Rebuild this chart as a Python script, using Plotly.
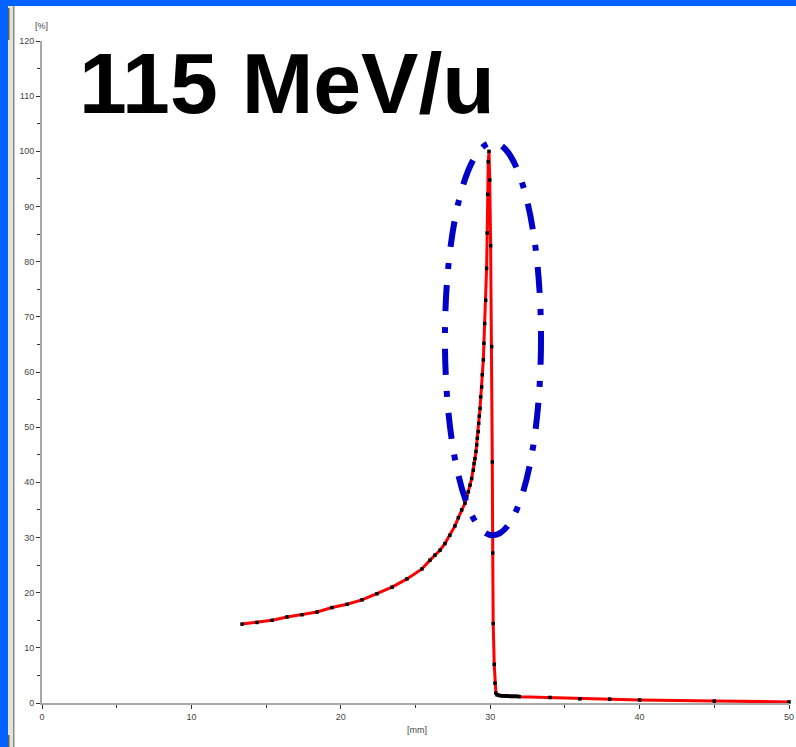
import plotly.graph_objects as go

# ---- data ----
depth_mm = [13.39, 14.39, 15.40, 16.40, 17.40, 18.41, 19.41, 20.42, 21.42, 22.42,
            23.43, 24.43, 25.43, 25.97, 26.30, 26.64, 26.97, 27.30, 27.64, 27.87,
            28.09, 28.31, 28.43, 28.54, 28.65, 28.76, 28.87, 28.92, 28.98, 29.05,
            29.10, 29.14, 29.20, 29.23, 29.27, 29.32, 29.36, 29.43, 29.47, 29.54,
            29.58, 29.63, 29.70, 29.76, 29.80, 29.83, 29.87, 29.92,
            29.97, 30.03, 30.10, 30.14, 30.17, 30.20, 30.27, 30.32, 30.38,
            30.45, 30.55, 30.65, 30.75, 30.85, 30.95, 31.05, 31.15, 31.25, 31.35,
            31.45, 31.55, 31.65, 31.75, 31.85, 31.95,
            34.0, 36.0, 38.0, 40.0, 45.0, 50.0]
dose_pct = [14.3, 14.6, 15.0, 15.6, 16.0, 16.5, 17.3, 17.9, 18.7, 19.8,
            21.0, 22.5, 24.3, 25.9, 26.8, 27.7, 28.9, 30.4, 32.1, 33.6,
            35.0, 36.2, 37.4, 38.3, 39.5, 40.7, 42.2, 43.4, 44.3, 45.6,
            46.8, 48.0, 49.2, 50.7, 52.0, 53.4, 55.5, 57.3, 59.5, 62.2,
            65.2, 68.8, 73.0, 78.8, 85.2, 92.2, 98.1, 100.0,
            94.8, 82.9, 64.6, 43.7, 27.2, 14.4, 7.0, 3.6, 1.8,
            1.5, 1.4, 1.35, 1.3, 1.3, 1.3, 1.25, 1.25, 1.25, 1.2,
            1.2, 1.2, 1.2, 1.2, 1.2, 1.15,
            1.0, 0.75, 0.7, 0.55, 0.35, 0.2]

x_ticks = [0, 10, 20, 30, 40, 50]
y_ticks = [0, 10, 20, 30, 40, 50, 60, 70, 80, 90, 100, 110, 120]
title_text = "115 MeV/u"

# ---- layout geometry ----
W, H = 796, 747
ML, MR, MT, MB = 42, 7, 41, 44
PW, PH = W - ML - MR, H - MT - MB


def px_x(p):
    return (p - ML) / PW


def px_y(p):
    return (H - MB - p) / PH


fig = go.Figure()
fig.add_trace(go.Scatter(
    x=depth_mm, y=dose_pct, mode="lines+markers",
    line=dict(color="#ff0000", width=3),
    marker=dict(color="#000000", size=3.5, symbol="square"),
    cliponaxis=False, showlegend=False,
))

tickfont = dict(family="Liberation Sans Narrow, Liberation Sans, Arial", size=9, color="#444444")

fig.update_xaxes(
    range=[0, 50], tickvals=x_ticks, ticktext=[str(v) for v in x_ticks],
    showline=True, linecolor="#a8a8a8", linewidth=2, showgrid=False, zeroline=False,
    ticks="outside", ticklen=4, tickwidth=1, tickcolor="#333333",
    minor=dict(dtick=5, ticks="outside", ticklen=3, tickcolor="#333333", showgrid=False),
    tickfont=tickfont, fixedrange=True,
)
fig.update_yaxes(
    range=[0, 120], tickvals=y_ticks, ticktext=[str(v) for v in y_ticks],
    showline=True, linecolor="#a8a8a8", linewidth=2, showgrid=False, zeroline=False,
    ticks="outside", ticklen=4, tickwidth=1, tickcolor="#333333",
    minor=dict(dtick=5, ticks="outside", ticklen=3, tickcolor="#333333", showgrid=False),
    tickfont=tickfont, fixedrange=True,
)

shapes = [
    # window frame: blue bands and grey strip
    dict(type="rect", xref="paper", yref="paper", x0=px_x(0), x1=px_x(W), y0=px_y(6), y1=px_y(0),
         fillcolor="#0062ff", line_width=0, layer="above"),
    dict(type="rect", xref="paper", yref="paper", x0=px_x(0), x1=px_x(8), y0=px_y(H), y1=px_y(0),
         fillcolor="#0062ff", line_width=0, layer="above"),
    dict(type="rect", xref="paper", yref="paper", x0=px_x(8), x1=px_x(13), y0=px_y(H), y1=px_y(6),
         fillcolor="#e6e3d6", line_width=0, layer="above"),
    dict(type="rect", xref="paper", yref="paper", x0=px_x(13), x1=px_x(14.5), y0=px_y(H), y1=px_y(6),
         fillcolor="#8a8a8a", line_width=0, layer="above"),
    dict(type="rect", xref="paper", yref="paper", x0=px_x(8), x1=px_x(9.5), y0=px_y(40), y1=px_y(8),
         fillcolor="#606060", line_width=0, layer="above"),
    dict(type="rect", xref="paper", yref="paper", x0=px_x(8), x1=px_x(9.5), y0=px_y(H), y1=px_y(735),
         fillcolor="#606060", line_width=0, layer="above"),
    # blue dash-dot ellipse around the peak
    dict(type="circle", xref="x", yref="y", x0=26.97, x1=33.4, y0=30.4, y1=101.6,
         line=dict(color="#0000c8", width=6, dash="26px,16px,6px,16px"), layer="above"),
]

annotations = [
    dict(text=title_text, xref="paper", yref="paper", x=px_x(77), y=px_y(83),
         xanchor="left", yanchor="middle", showarrow=False,
         font=dict(family="Liberation Sans, Arial", size=86, color="#000000", weight="bold")),
    dict(text="[%]", xref="paper", yref="paper", x=px_x(41), y=px_y(26),
         xanchor="center", yanchor="middle", showarrow=False, font=tickfont),
    dict(text="[mm]", xref="paper", yref="paper", x=px_x(417), y=px_y(730),
         xanchor="center", yanchor="middle", showarrow=False, font=tickfont),
]

fig.update_layout(
    width=W, height=H, margin=dict(l=ML, r=MR, t=MT, b=MB, autoexpand=False),
    paper_bgcolor="#ffffff", plot_bgcolor="#ffffff",
    shapes=shapes, annotations=annotations,
)

fig.write_html(
    "out.html",
    config={"displayModeBar": False},
    post_script="document.body.style.margin='0';document.body.style.overflow='hidden';",
)
